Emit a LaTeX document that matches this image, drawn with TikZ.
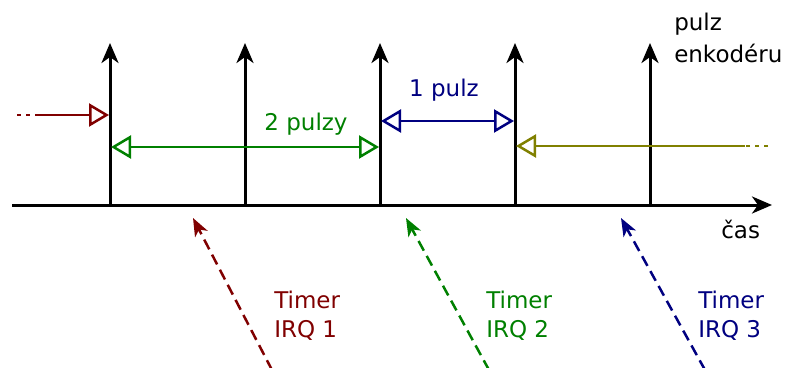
\documentclass[tikz,border=0pt]{standalone}
\usepackage{fontspec}
\setmainfont{DejaVu Sans}
\usetikzlibrary{arrows.meta}
\definecolor{cmaroon}{RGB}{128,0,0}
\definecolor{cgreen}{RGB}{0,128,0}
\definecolor{cnavy}{RGB}{0,0,128}
\definecolor{colive}{RGB}{128,128,0}
\begin{document}
\begin{tikzpicture}[x=1pt,y=-1pt,line width=2.5pt,
  lbl/.style={font=\fontsize{23}{30}\selectfont,inner sep=0pt},
  blk/.style={line width=3pt,-{Stealth[length=20pt,width=17pt,inset=6pt]}},
  opentip/.style={-{Triangle[open,length=20pt,width=23pt]}},
  meas/.style={{Triangle[open,length=20pt,width=23pt]}-{Triangle[open,length=20pt,width=23pt]}},
  leadin/.style={dash pattern=on 4pt off 5pt},
  irq/.style={dash pattern=on 11pt off 6pt,-{Stealth[length=18pt,width=14pt,inset=5pt]}}]
\useasboundingbox (0,0) rectangle (786,367);

% time axis
\coordinate (a0) at (12,205);
\coordinate (a1) at (772,205);
\draw[blk] (a0) -- (a1);

% encoder pulses
\foreach \i/\x in {1/110,2/245,3/380,4/515,5/650}{
  \coordinate (b\i) at (\x,205);
  \coordinate (t\i) at (\x,43);
  \draw[blk] (b\i) -- (t\i);
}

% axis labels
\node[lbl,anchor=base west] (cas) at (720,238) {čas};
\node[lbl,anchor=base west] (pz1) at (673,30) {pulz};
\node[lbl,anchor=base west] (pz2) at (673,62) {enkodéru};

% incoming interval from the left
\coordinate (r0) at (17,115);
\coordinate (r1) at (36,115);
\coordinate (r2) at (109,115);
\draw[cmaroon,leadin] (r0) -- (r1);
\draw[cmaroon,opentip] (r1) -- (r2);

% two-pulse interval
\coordinate (g0) at (111,147);
\coordinate (g1) at (379,147);
\draw[cgreen,meas] (g0) -- (g1);
\node[lbl,text=cgreen,anchor=base] (gl) at (306,130) {2 pulzy};

% one-pulse interval
\coordinate (n0) at (381,121);
\coordinate (n1) at (514,121);
\draw[cnavy,meas] (n0) -- (n1);
\node[lbl,text=cnavy,anchor=base] (nl) at (444,96) {1 pulz};

% open interval to the right
\coordinate (o0) at (768,146);
\coordinate (o1) at (745,146);
\coordinate (o2) at (516,146);
\draw[colive,leadin] (o0) -- (o1);
\draw[colive,opentip] (o1) -- (o2);

% timer interrupts
\coordinate (i1s) at (272,370);
\coordinate (i1e) at (193,218);
\coordinate (i2s) at (489,370);
\coordinate (i2e) at (406,218);
\coordinate (i3s) at (705,370);
\coordinate (i3e) at (621,218);
\draw[cmaroon,irq] (i1s) -- (i1e);
\draw[cgreen,irq] (i2s) -- (i2e);
\draw[cnavy,irq] (i3s) -- (i3e);

\node[lbl,text=cmaroon,anchor=base west] (q1a) at (273,308) {Timer};
\node[lbl,text=cmaroon,anchor=base west] (q1b) at (273,337) {IRQ 1};
\node[lbl,text=cgreen,anchor=base west] (q2a) at (485,308) {Timer};
\node[lbl,text=cgreen,anchor=base west] (q2b) at (485,337) {IRQ 2};
\node[lbl,text=cnavy,anchor=base west] (q3a) at (697,308) {Timer};
\node[lbl,text=cnavy,anchor=base west] (q3b) at (697,337) {IRQ 3};
\end{tikzpicture}
\end{document}
